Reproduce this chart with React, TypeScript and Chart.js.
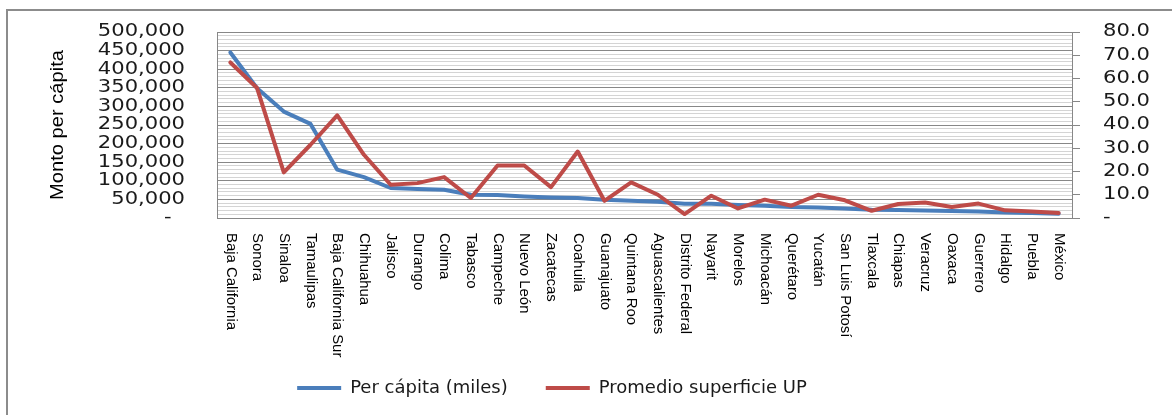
import React, { useEffect, useRef } from 'react';
import { Chart, registerables } from 'chart.js';

Chart.register(...registerables);

const states = [
  'Baja California', 'Sonora', 'Sinaloa', 'Tamaulipas', 'Baja California Sur', 'Chihuahua',
  'Jalisco', 'Durango', 'Colima', 'Tabasco', 'Campeche', 'Nuevo León', 'Zacatecas', 'Coahuila',
  'Guanajuato', 'Quintana Roo', 'Aguascalientes', 'Distrito Federal', 'Nayarit', 'Morelos',
  'Michoacán', 'Querétaro', 'Yucatán', 'San Luis Potosí', 'Tlaxcala', 'Chiapas', 'Veracruz',
  'Oaxaca', 'Guerrero', 'Hidalgo', 'Puebla', 'México',
];

const perCapita = [
  445000, 349000, 286000, 253000, 130000, 110000, 80600, 78000, 76000, 62600, 61800, 58000,
  55400, 53800, 49200, 46500, 43800, 38400, 38000, 35000, 33000, 29600, 28500, 25800, 22300,
  21500, 20400, 18800, 17700, 15000, 13400, 11600,
];

const superficie = [
  66.9, 55.9, 19.6, 31.5, 44.1, 27.2, 14.3, 15.0, 17.6, 8.6, 22.6, 22.6, 13.3, 28.6, 7.4, 15.3,
  10.0, 1.7, 9.6, 4.1, 7.9, 5.3, 10.0, 7.6, 3.1, 6.0, 6.7, 4.7, 6.2, 3.3, 2.8, 2.2,
];

const leftTickLabels = ['-  ', '50,000', '100,000', '150,000', '200,000', '250,000', '300,000', '350,000', '400,000', '450,000', '500,000'];
const rightTickLabels = ['-', '10.0', '20.0', '30.0', '40.0', '50.0', '60.0', '70.0', '80.0'];

const seriesNames = ['Per cápita (miles)', 'Promedio superficie UP'];
const axisTitle = 'Monto per cápita';

const BLUE = '#4a7ebb';
const RED = '#be4b48';
const GRID_DARK = '#878787';
const GRID_LIGHT = '#d4d4d4';

const textPlugin = {
  id: 'customText',
  beforeDraw(chart: any) {
    const { ctx, width, height } = chart;
    ctx.save();
    ctx.fillStyle = '#ffffff';
    ctx.fillRect(0, 0, width, height);
    ctx.strokeStyle = '#8c8c8c';
    ctx.lineWidth = 2;
    ctx.strokeRect(7, 10, width + 20, height + 20);
    ctx.restore();
  },
  afterLayout(chart: any) {
    const lg = chart.legend;
    if (lg) {
      lg.left -= 34;
      lg.right -= 34;
    }
  },
  afterDraw(chart: any) {
    const ctx = chart.ctx;
    const ys = chart.scales.y;
    const yr = chart.scales.y1;
    const xs = chart.scales.x;
    ctx.save();
    ctx.fillStyle = '#1a1a1a';
    ctx.textBaseline = 'middle';

    // left tick labels
    ctx.font = '17px "DejaVu Sans"';
    ys.ticks.forEach((t: any) => {
      if (t.value % 50000 !== 0) return;
      const lbl = leftTickLabels[Math.round(t.value / 50000)];
      const py = ys.getPixelForValue(t.value);
      ctx.save();
      ctx.translate(185, py);
      ctx.scale(1.24, 1);
      ctx.textAlign = 'right';
      ctx.fillText(lbl, 0, 0);
      ctx.restore();
    });

    // right tick labels
    yr.ticks.forEach((t: any) => {
      const lbl = rightTickLabels[Math.round(t.value / 10)];
      const py = yr.getPixelForValue(t.value);
      ctx.save();
      ctx.translate(1103, py);
      ctx.scale(1.24, 1);
      ctx.textAlign = 'left';
      ctx.fillText(lbl, 0, 0);
      ctx.restore();
    });

    // category labels, rotated to read top-to-bottom
    ctx.fillStyle = '#000000';
    ctx.font = '14px "Liberation Sans"';
    const f = 97 / ctx.measureText('Baja California').width;
    states.forEach((s, i) => {
      const px = xs.getPixelForTick(i);
      ctx.save();
      ctx.translate(px, 233);
      ctx.rotate(Math.PI / 2);
      ctx.scale(f, 1);
      ctx.textAlign = 'left';
      ctx.fillText(s, 0, 0);
      ctx.restore();
    });

    // axis title
    ctx.font = '19px "Liberation Sans"';
    const tf = 150 / ctx.measureText(axisTitle).width;
    ctx.save();
    ctx.translate(58, (chart.chartArea.top + chart.chartArea.bottom) / 2);
    ctx.rotate(-Math.PI / 2);
    ctx.scale(tf, 1);
    ctx.textAlign = 'center';
    ctx.fillText(axisTitle, 0, 0);
    ctx.restore();

    ctx.restore();
  },
};

export default function App() {
  const ref = useRef<HTMLCanvasElement | null>(null);

  useEffect(() => {
    document.body.style.margin = '0';
    const canvas = ref.current;
    if (!canvas) return;
    const chart = new Chart(canvas, {
      type: 'line',
      data: {
        labels: states,
        datasets: [
          {
            label: seriesNames[0],
            data: perCapita,
            borderColor: BLUE,
            backgroundColor: BLUE,
            borderWidth: 4,
            pointRadius: 0,
            tension: 0,
            yAxisID: 'y',
            order: 1,
            borderJoinStyle: 'round',
            borderCapStyle: 'round',
          },
          {
            label: seriesNames[1],
            data: superficie,
            borderColor: RED,
            backgroundColor: RED,
            borderWidth: 4,
            pointRadius: 0,
            tension: 0,
            yAxisID: 'y1',
            order: 0,
            borderJoinStyle: 'round',
            borderCapStyle: 'round',
          },
        ],
      },
      options: {
        animation: false,
        responsive: false,
        devicePixelRatio: 1,
        layout: { padding: { left: 0, right: 0, top: 32, bottom: 8 } },
        plugins: {
          tooltip: { enabled: false },
          legend: {
            position: 'bottom',
            labels: {
              color: '#1a1a1a',
              font: { family: 'DejaVu Sans', size: 18 },
              boxWidth: 44,
              boxHeight: 4,
              padding: 38,
              sort: (a: any, b: any) => a.datasetIndex - b.datasetIndex,
              generateLabels: (c: any) =>
                (Chart.defaults.plugins.legend.labels as any)
                  .generateLabels(c)
                  .map((l: any) => ({ ...l, lineWidth: 0, fillStyle: l.strokeStyle })),
            },
          },
        },
        scales: {
          x: {
            type: 'category',
            offset: true,
            grid: { display: false },
            border: { display: true, color: GRID_DARK },
            ticks: { display: false },
            afterFit: (s: any) => {
              s.height = 123;
            },
          },
          y: {
            position: 'left',
            min: 0,
            max: 500000,
            ticks: { stepSize: 10000, display: false, autoSkip: false, maxTicksLimit: 100 },
            grid: {
              drawTicks: false,
              color: (c: any) =>
                c.tick && c.tick.value % 50000 === 0 ? GRID_DARK : GRID_LIGHT,
              lineWidth: 1,
            },
            border: { display: true, color: GRID_DARK },
            afterFit: (s: any) => {
              s.width = 217;
            },
          },
          y1: {
            position: 'right',
            min: 0,
            max: 80,
            ticks: { stepSize: 10, display: false, autoSkip: false },
            grid: {
              drawOnChartArea: false,
              drawTicks: true,
              tickLength: 8,
              color: GRID_DARK,
            },
            border: { display: true, color: GRID_DARK },
            afterFit: (s: any) => {
              s.width = 100;
            },
          },
        },
      },
      plugins: [textPlugin],
    } as any);
    return () => chart.destroy();
  }, []);

  return (
    <div style={{ width: 1172, height: 415, position: 'relative' }}>
      <canvas ref={ref} width={1172} height={415} style={{ display: 'block' }} />
    </div>
  );
}
